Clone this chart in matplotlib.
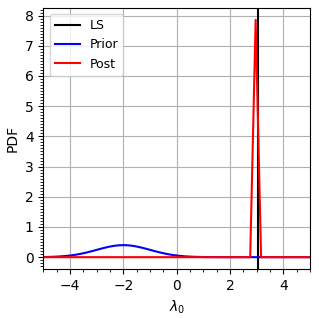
import numpy as np
import matplotlib
matplotlib.use("Agg")
import matplotlib.pyplot as plt
from matplotlib.ticker import MultipleLocator

# grid of lambda_0 values (50 points from -5 to 5)
lam = np.linspace(-5, 5, 50)

prior_pdf = [0.0044, 0.0080, 0.0139, 0.0231, 0.0367, 0.0562, 0.0824, 0.1161, 0.1567, 0.2028,
             0.2518, 0.3000, 0.3428, 0.3756, 0.3949, 0.3982, 0.3851, 0.3573, 0.3180, 0.2715,
             0.2222, 0.1745, 0.1315, 0.0950, 0.0659, 0.0438, 0.0279, 0.0171, 0.0100, 0.0056,
             0.0031, 0.0016, 0.0008, 0.0004, 0.0002, 0.0001, 0.0, 0.0, 0.0, 0.0,
             0.0, 0.0, 0.0, 0.0, 0.0, 0.0, 0.0, 0.0, 0.0, 0.0]

post_pdf = [0.0] * 39 + [7.86] + [0.0] * 10

ls_value = 3.04

fig = plt.figure(figsize=(3.19, 3.18), dpi=100)
ax = fig.add_axes([0.136, 0.154, 0.836, 0.821])

ax.axvline(ls_value, color="black", lw=1.5, label="LS")
ax.plot(lam, prior_pdf, color="blue", lw=1.5, label="Prior")
ax.plot(lam, post_pdf, color="red", lw=1.5, label="Post")

ax.set_xlim(-5, 5)
ax.xaxis.set_major_locator(MultipleLocator(2))
ax.xaxis.set_minor_locator(MultipleLocator(0.5))
ax.yaxis.set_major_locator(MultipleLocator(1))
ax.yaxis.set_minor_locator(MultipleLocator(0.1))
ax.grid(True, which="major", color="#b0b0b0", lw=0.8)
ax.set_axisbelow(True)
ax.tick_params(labelsize=10)
ax.set_xlabel(r"$\lambda_0$", fontsize=10)
ax.set_ylabel("PDF", fontsize=10)
ax.legend(loc="upper left", fontsize=9)

fig.savefig("out.png", dpi=100)
